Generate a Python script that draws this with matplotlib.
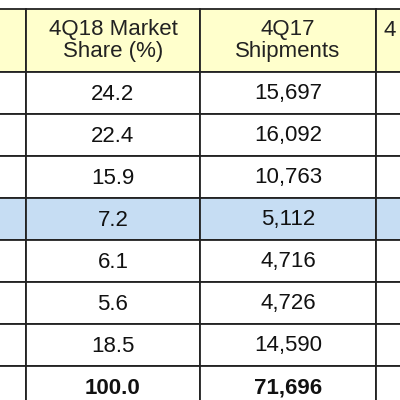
import matplotlib
matplotlib.use("Agg")
import matplotlib.pyplot as plt
from matplotlib.patches import Rectangle

headers = ["", "4Q18 Market\nShare (%)", "4Q17\nShipments", "4\n "]
share = ["24.2", "22.4", "15.9", "7.2", "6.1", "5.6", "18.5", "100.0"]
ship17 = ["15,697", "16,092", "10,763", "5,112", "4,716", "4,726", "14,590", "71,696"]
highlight_row = 3

fig = plt.figure(figsize=(4, 4), dpi=100)
ax = fig.add_axes([0, 0, 1, 1])
ax.set_xlim(0, 400); ax.set_ylim(400, 0); ax.axis("off")

xs = [-10, 26, 200, 376, 420]
header_top, header_bot, rh = 9, 72, 42
yellow, blue = "#FFFFCC", "#C6DDF3"
font = "Liberation Sans"
fs = 16

for c in range(4):
    ax.add_patch(Rectangle((xs[c], header_top), xs[c+1]-xs[c], header_bot-header_top,
                           facecolor=yellow, edgecolor="#222222", lw=1.3))
    if headers[c]:
        ha = "center" if c < 3 else "left"
        x = (xs[c]+xs[c+1])/2 if c < 3 else xs[c]+7
        ax.text(x, (header_top+header_bot)/2, headers[c], ha=ha, va="center",
                fontsize=fs, family=font, color="#222222", linespacing=1.0)

for r in range(len(share)):
    y0 = header_bot + r*rh
    fc = blue if r == highlight_row else "white"
    for c in range(4):
        ax.add_patch(Rectangle((xs[c], y0), xs[c+1]-xs[c], rh,
                               facecolor=fc, edgecolor="#222222", lw=1.3))
    bold = "bold" if r == len(share)-1 else "normal"
    for c, val in ((1, share[r]), (2, ship17[r])):
        ax.text((xs[c]+xs[c+1])/2, y0+rh/2+1, val, ha="center", va="center",
                fontsize=fs, family=font, weight=bold, color="#111111")

fig.savefig("out.png", dpi=100)
